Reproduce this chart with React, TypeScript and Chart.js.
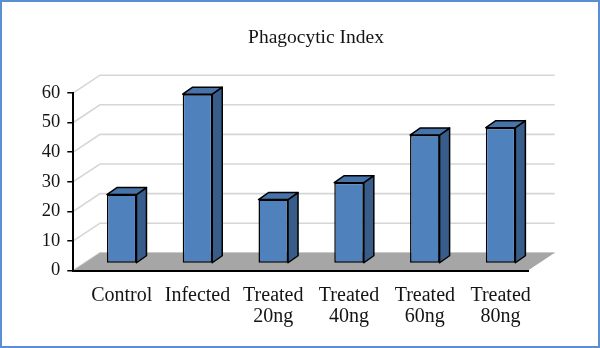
import { useEffect, useRef } from "react";
import { Chart, registerables } from "chart.js";

Chart.register(...registerables);

// Chart content
const chartTitle = "Phagocytic Index";
const categories: string[][] = [
  ["Control"],
  ["Infected"],
  ["Treated", "20ng"],
  ["Treated", "40ng"],
  ["Treated", "60ng"],
  ["Treated", "80ng"],
];
const phagocyticIndex = [23.3, 57.2, 21.6, 27.3, 43.4, 45.9];
const yMin = 0;
const yMax = 60;
const yStep = 10;

// Styling
const FONT = "'Liberation Serif', 'Times New Roman', serif";
const TEXT = "#141414";
const WALL_DEPTH = { x: 26.7, y: -17.7 }; // oblique offset of back wall from the front plane
const BAR_SHIFT = { x: 10.5, y: -7 }; // bars sit part-way into the floor
const BAR_DEPTH = { x: 10, y: -7 }; // thickness of each column
const FRONT = "#4f81bd";
const SIDE = "#385d8a";
const TOP = "#4673aa";

// Back wall, side wall and floor, painted before the axes
const wallsPlugin = {
  id: "walls3d",
  beforeDraw(chart: any) {
    const { ctx, chartArea: a, scales } = chart;
    const ys = scales.y;
    ctx.save();
    ctx.fillStyle = "#ffffff";
    ctx.fillRect(0, 0, chart.width, chart.height);

    ctx.strokeStyle = "#d6d6d6";
    ctx.lineWidth = 1.6;
    for (let v = yMin; v <= yMax; v += yStep) {
      const py = ys.getPixelForValue(v);
      ctx.beginPath();
      ctx.moveTo(a.left, py);
      ctx.lineTo(a.left + WALL_DEPTH.x, py + WALL_DEPTH.y);
      ctx.lineTo(a.right + WALL_DEPTH.x, py + WALL_DEPTH.y);
      ctx.stroke();
    }

    const base = ys.getPixelForValue(0);
    ctx.fillStyle = "#a6a6a6";
    ctx.beginPath();
    ctx.moveTo(a.left, base);
    ctx.lineTo(a.right, base);
    ctx.lineTo(a.right + WALL_DEPTH.x, base + WALL_DEPTH.y);
    ctx.lineTo(a.left + WALL_DEPTH.x, base + WALL_DEPTH.y);
    ctx.closePath();
    ctx.fill();
    ctx.restore();
  },
  afterDraw(chart: any) {
    const { ctx } = chart;
    ctx.save();
    ctx.strokeStyle = "#5b8fd4";
    ctx.lineWidth = 2;
    ctx.strokeRect(1, 1, chart.width - 2, chart.height - 2);
    ctx.restore();
  },
};

// Shifts the columns into the floor and adds their top and side faces
const columnsPlugin = {
  id: "columns3d",
  beforeDatasetsDraw(chart: any) {
    chart.ctx.save();
    chart.ctx.translate(BAR_SHIFT.x, BAR_SHIFT.y);
  },
  afterDatasetsDraw(chart: any) {
    const { ctx } = chart;
    const meta = chart.getDatasetMeta(0);
    ctx.lineWidth = 1.5;
    ctx.strokeStyle = "#000000";
    ctx.lineJoin = "round";
    meta.data.forEach((bar: any) => {
      const { x, y, base, width } = bar.getProps(["x", "y", "base", "width"], true);
      const l = x - width / 2;
      const r = x + width / 2;
      // side face
      ctx.fillStyle = SIDE;
      ctx.beginPath();
      ctx.moveTo(r, y);
      ctx.lineTo(r + BAR_DEPTH.x, y + BAR_DEPTH.y);
      ctx.lineTo(r + BAR_DEPTH.x, base + BAR_DEPTH.y);
      ctx.lineTo(r, base);
      ctx.closePath();
      ctx.fill();
      ctx.stroke();
      // top face
      ctx.fillStyle = TOP;
      ctx.beginPath();
      ctx.moveTo(l, y);
      ctx.lineTo(l + BAR_DEPTH.x, y + BAR_DEPTH.y);
      ctx.lineTo(r + BAR_DEPTH.x, y + BAR_DEPTH.y);
      ctx.lineTo(r, y);
      ctx.closePath();
      ctx.fill();
      ctx.stroke();
    });
    ctx.restore();
  },
};

export default function App() {
  const canvasRef = useRef<HTMLCanvasElement | null>(null);

  useEffect(() => {
    if (!canvasRef.current) return;
    const chart = new Chart(canvasRef.current, {
      type: "bar",
      data: {
        labels: categories,
        datasets: [
          {
            data: phagocyticIndex,
            backgroundColor: FRONT,
            borderColor: "#000000",
            borderWidth: 1.5,
            borderSkipped: false,
            categoryPercentage: 1,
            barPercentage: 0.39,
            clip: false as any,
          },
        ],
      },
      options: {
        responsive: false,
        animation: false,
        devicePixelRatio: 1,
        layout: { padding: { left: 32, right: 0, top: 0, bottom: 13.5 } },
        plugins: {
          legend: { display: false },
          tooltip: { enabled: false },
          title: {
            display: true,
            text: chartTitle,
            color: TEXT,
            font: { family: FONT, size: 19.5, weight: "normal", lineHeight: 1.2 },
            padding: { top: 26, bottom: 43.5 },
          },
        },
        scales: {
          x: {
            grid: { display: false },
            border: { display: true, color: "#000000", width: 2 },
            ticks: {
              color: TEXT,
              font: { family: FONT, size: 20, lineHeight: 1.05 },
              padding: 7,
              labelOffset: BAR_SHIFT.x,
              maxRotation: 0,
              autoSkip: false,
            },
          },
          y: {
            min: yMin,
            max: yMax,
            afterFit: (scale: any) => {
              scale.width = 41.3;
            },
            ticks: {
              stepSize: yStep,
              color: TEXT,
              font: { family: FONT, size: 18.5 },
              padding: 7,
            },
            grid: {
              drawOnChartArea: false,
              color: "#000000",
              lineWidth: 1.5,
              tickLength: 6,
            },
            border: { color: "#000000", width: 2 },
          },
          // empty right-hand axis that reserves room for the floor's depth
          depth: {
            type: "linear",
            position: "right",
            display: true,
            afterFit: (scale: any) => {
              scale.width = 72;
            },
            ticks: { display: false },
            grid: { display: false },
            border: { display: false },
          },
        },
      },
      plugins: [wallsPlugin, columnsPlugin],
    });
    return () => chart.destroy();
  }, []);

  return (
    <div style={{ position: "fixed", left: 0, top: 0, width: 600, height: 348 }}>
      <canvas ref={canvasRef} width={600} height={348} />
    </div>
  );
}
